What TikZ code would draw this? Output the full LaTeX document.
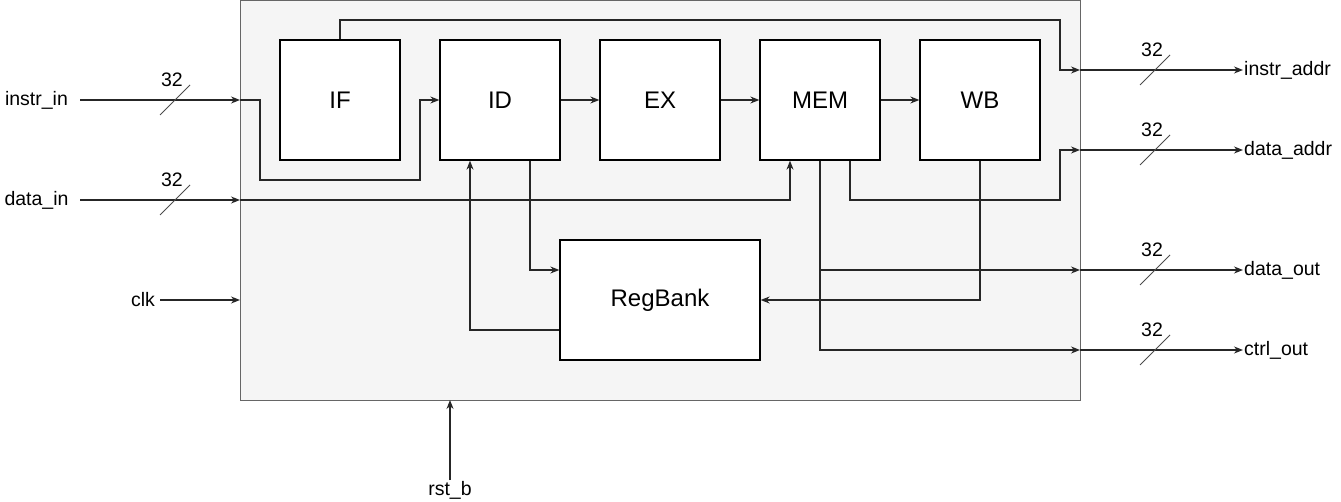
\documentclass[tikz,border=0pt]{standalone}
\usepackage{fontspec}
\setmainfont{Liberation Sans}
\usetikzlibrary{arrows.meta}
\definecolor{outerfill}{HTML}{F5F5F5}
\definecolor{outerline}{HTML}{666666}
\tikzset{
  x=1pt,y=-1pt,
  stage/.style={draw=black,fill=white,line width=1.3pt,minimum width=120pt,minimum height=120pt,inner sep=0pt,font=\fontsize{24}{28}\selectfont},
  wire/.style={draw=black!85,line width=1.3pt},
  arr/.style={wire,-{Stealth[length=9pt,width=7pt]}},
  lbl/.style={font=\fontsize{19.5}{22}\selectfont,inner sep=1pt},
  busslash/.style={draw=black!70,line width=1pt},
}
\begin{document}
\begin{tikzpicture}
\useasboundingbox (0,0) rectangle (1341,502);
% outer box
\node[draw=outerline,fill=outerfill,line width=1.3pt,minimum width=840pt,minimum height=400pt,inner sep=0pt,anchor=north west] (top) at (240,0) {};
% stages
\node[stage] (IF) at (340,100) {IF};
\node[stage] (ID) at (500,100) {ID};
\node[stage] (EX) at (660,100) {EX};
\node[stage] (MEM) at (820,100) {MEM};
\node[stage] (WB) at (980,100) {WB};
\node[stage,minimum width=200pt] (RB) at (660,300) {RegBank};
% external labels
\node[lbl] (instrin) at (36.5,100) {instr\_in};
\node[lbl] (datain) at (36.5,200) {data\_in};
\node[lbl] (clk) at (143,300) {clk};
\node[lbl] (rstb) at (450,490) {rst\_b};
\node[lbl,anchor=west] (instraddr) at (1243,70) {instr\_addr};
\node[lbl,anchor=west] (dataaddr) at (1243,150) {data\_addr};
\node[lbl,anchor=west] (dataout) at (1243,270) {data\_out};
\node[lbl,anchor=west] (ctrlout) at (1243,350) {ctrl\_out};
% pins on outer box
\coordinate (pinI) at (240,100);
\coordinate (pinD) at (240,200);
\coordinate (pinC) at (240,300);
\coordinate (pinR) at (450,400);
\coordinate (pinIA) at (1080,70);
\coordinate (pinDA) at (1080,150);
\coordinate (pinDO) at (1080,270);
\coordinate (pinCO) at (1080,350);
\coordinate (srcI) at (80,100);
\coordinate (srcD) at (80,200);
\coordinate (srcC) at (160,300);
\coordinate (srcR) at (450,480);
% inputs
\draw[arr] (srcI) -- (pinI);
\draw[arr] (srcD) -- (pinD);
\draw[arr] (srcC) -- (pinC);
\draw[arr] (srcR) -- (pinR);
% outputs
\draw[arr] (pinIA) -- (instraddr.west);
\draw[arr] (pinDA) -- (dataaddr.west);
\draw[arr] (pinDO) -- (dataout.west);
\draw[arr] (pinCO) -- (ctrlout.west);
% bus slashes
\foreach \cx/\cy/\nm in {175/100/sa,175/200/sb,1155/70/sc,1155/150/sd,1155/270/se,1155/350/sf}{
  \draw[busslash] (\cx-15,\cy+15) -- (\cx+15,\cy-15);
  \node[lbl] (\nm) at (\cx-3,\cy-20) {32};
}
% pipeline
\draw[arr] (ID.east) -- (EX.west);
\draw[arr] (EX.east) -- (MEM.west);
\draw[arr] (MEM.east) -- (WB.west);
% internal wires
\draw[arr] (pinI) -- (260,100) -- (260,180) -- (420,180) -- (420,100) -- (ID.west);
\draw[arr] (pinD) -- (790,200) -- (MEM.south -| 790,0);
\draw[arr] (IF.north) -- (340,20) -- (1060,20) -- (1060,70) -- (pinIA);
\draw[arr] (MEM.south -| 850,0) -- (850,200) -- (1060,200) -- (1060,150) -- (pinDA);
\draw[arr] (MEM.south) -- (820,270) -- (pinDO);
\draw[arr] (MEM.south) -- (820,350) -- (pinCO);
\draw[arr] (WB.south) -- (980,300) -- (RB.east);
\draw[arr] (ID.south -| 530,0) -- (530,270) -- (RB.west |- 0,270);
\draw[arr] (RB.west |- 0,330) -- (470,330) -- (ID.south -| 470,0);
\end{tikzpicture}
\end{document}
